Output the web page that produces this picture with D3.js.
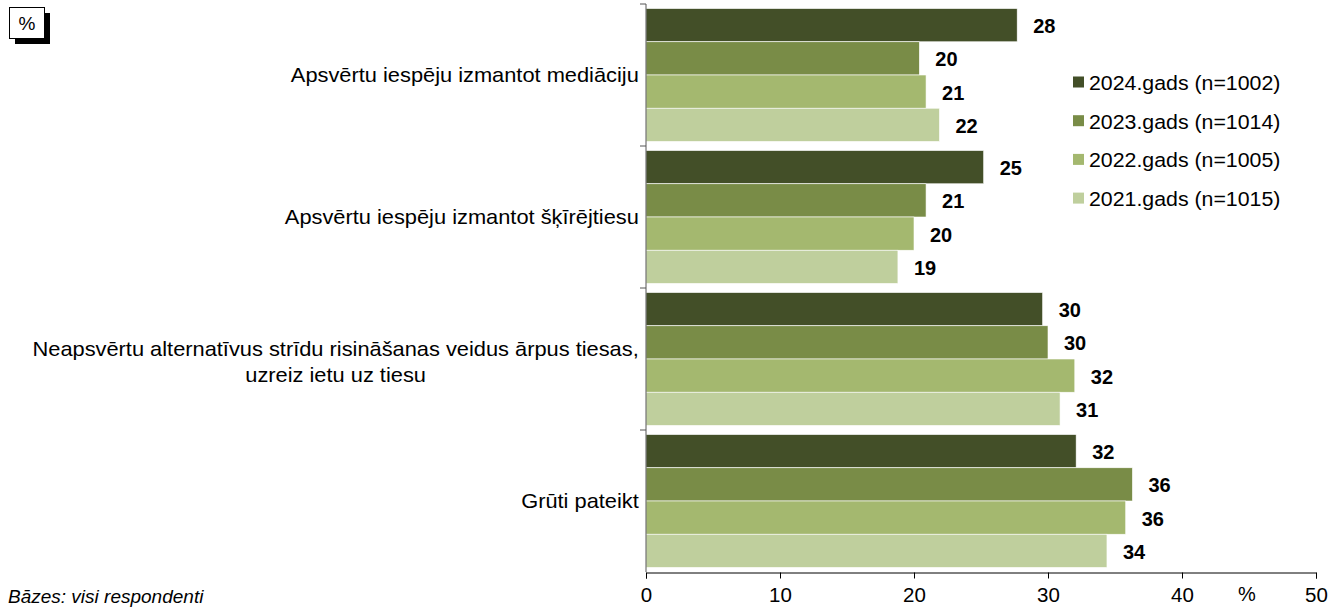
<!DOCTYPE html>
<html>
<head>
<meta charset="utf-8">
<script src="https://cdn.jsdelivr.net/npm/d3@7"></script>
<style>
  body { margin: 0; background: #fff; }
  text { font-family: "Liberation Sans", Arial, sans-serif; }
</style>
</head>
<body>
<div id="chart"></div>
<script>
// categories (multi-line labels split by \n)
var categories = [
  "Apsvērtu iespēju izmantot mediāciju",
  "Apsvērtu iespēju izmantot šķīrējtiesu",
  "Neapsvērtu alternatīvus strīdu risināšanas veidus ārpus tiesas,\nuzreiz ietu uz tiesu",
  "Grūti pateikt"
];
var seriesNames = ["2024.gads (n=1002)", "2023.gads (n=1014)", "2022.gads (n=1005)", "2021.gads (n=1015)"];
var seriesColors = ["#434f28", "#798c47", "#a4b86f", "#bfcf9d"];
var v2024 = [27.7, 25.2, 29.6, 32.1];
var v2023 = [20.4, 20.9, 30.0, 36.3];
var v2022 = [20.9, 20.0, 32.0, 35.8];
var v2021 = [21.9, 18.8, 30.9, 34.4];
var xTicks = [0, 10, 20, 30, 40, 50];

(function() {
  var width = 1330, height = 607;
  var allSeries = [v2024, v2023, v2022, v2021];

  var svg = d3.select("#chart").append("svg")
    .attr("width", width)
    .attr("height", height);

  // stretch a text horizontally around its own x anchor (original text is a bit wider than Arial)
  function stretch(k) {
    return function(sel) {
      sel.each(function() {
        var t = d3.select(this);
        var ax = +t.attr("x") || 0;
        t.attr("transform", "translate(" + ax + ",0) scale(" + k + ",1) translate(" + (-ax) + ",0)");
      });
    };
  }

  var x = d3.scaleLinear().domain([0, 50]).range([646, 1316]);
  var y0 = d3.scaleBand().domain(d3.range(categories.length)).range([4, 572]).paddingInner(0.064).paddingOuter(0.032);
  var y1 = d3.scaleBand().domain(d3.range(seriesNames.length)).range([0, y0.bandwidth()]);

  // bars
  var groups = svg.selectAll(".cat")
    .data(categories)
    .enter().append("g")
    .attr("class", "cat")
    .attr("transform", function(d, i) { return "translate(0," + y0(i) + ")"; });

  groups.each(function(c, ci) {
    var g = d3.select(this);
    var rows = allSeries.map(function(s, si) { return { si: si, v: s[ci] }; });
    g.selectAll("rect").data(rows).enter().append("rect")
      .attr("x", x(0))
      .attr("y", function(d) { return y1(d.si); })
      .attr("width", function(d) { return x(d.v) - x(0); })
      .attr("height", y1.bandwidth())
      .attr("fill", function(d) { return seriesColors[d.si]; })
      .attr("stroke", "#ffffff")
      .attr("stroke-width", 0.6);
    g.selectAll("text.val").data(rows).enter().append("text")
      .attr("class", "val")
      .attr("x", function(d) { return x(d.v) + 16; })
      .attr("y", function(d) { return y1(d.si) + y1.bandwidth() / 2 + 8; })
      .attr("font-size", 20)
      .attr("font-weight", "bold")
      .text(function(d) { return Math.round(d.v); });
  });

  // y axis line + ticks at category boundaries
  svg.append("line").attr("x1", x(0)).attr("x2", x(0)).attr("y1", 4).attr("y2", 572)
    .attr("stroke", "#555").attr("stroke-width", 1);
  d3.range(categories.length).forEach(function(i) {
    var yy = 4 + i * 142;
    svg.append("line").attr("x1", x(0) - 6).attr("x2", x(0)).attr("y1", yy).attr("y2", yy)
      .attr("stroke", "#555");
  });

  // category labels: block right-aligned at 639, lines centred inside it
  var KC = 1.065;
  categories.forEach(function(c, i) {
    var lines = c.split("\n");
    var cy = y0(i) + y0.bandwidth() / 2;
    var t = svg.append("text")
      .attr("font-size", 20.5)
      .attr("fill", "#000")
      .attr("text-anchor", "middle");
    lines.forEach(function(l, li) {
      t.append("tspan").attr("x", 0)
        .attr("y", cy + 7 + (li - (lines.length - 1) / 2) * 26 + (lines.length > 1 ? 3 : 0))
        .text(l);
    });
    var w = t.node().getBBox().width * KC;
    var cx = 639 - w / 2;
    t.selectAll("tspan").attr("x", cx);
    t.attr("x", cx).call(stretch(KC));
  });

  // x axis
  var xAxis = d3.axisBottom(x).tickValues(xTicks).tickSize(6).tickPadding(9);
  var ax = svg.append("g").attr("transform", "translate(0,572.5)").call(xAxis);
  ax.select(".domain").attr("stroke", "#000");
  ax.selectAll(".tick line").attr("stroke", "#000");
  ax.selectAll(".tick text").attr("font-size", 20.5).attr("fill", "#000")
    .attr("font-family", "Liberation Sans, Arial, sans-serif");
  svg.append("text").attr("x", 1247).attr("y", 601).attr("font-size", 20)
    .attr("text-anchor", "middle").text("%");

  // legend
  var legend = svg.selectAll(".leg").data(seriesNames).enter().append("g")
    .attr("transform", function(d, i) { return "translate(1073," + (82 + i * 38.7) + ")"; });
  legend.append("rect").attr("x", 0).attr("y", -5.5).attr("width", 11).attr("height", 11)
    .attr("fill", function(d, i) { return seriesColors[i]; });
  legend.append("text").attr("x", 16).attr("y", 8).attr("font-size", 20.5)
    .text(function(d) { return d; }).call(stretch(1.04));

  // % box with shadow
  svg.append("rect").attr("x", 15).attr("y", 13).attr("width", 35).attr("height", 31).attr("fill", "#000");
  svg.append("rect").attr("x", 9.5).attr("y", 7.5).attr("width", 35).attr("height", 31)
    .attr("fill", "#fff").attr("stroke", "#000").attr("stroke-width", 1);
  svg.append("text").attr("x", 27).attr("y", 30).attr("font-size", 19).attr("text-anchor", "middle")
    .text("%");

  // footer, on the bottom edge as in the original
  svg.append("text").attr("x", 8).attr("y", 603).attr("font-size", 19).attr("font-style", "italic")
    .text("Bāzes: visi respondenti");
})();
</script>
</body>
</html>
